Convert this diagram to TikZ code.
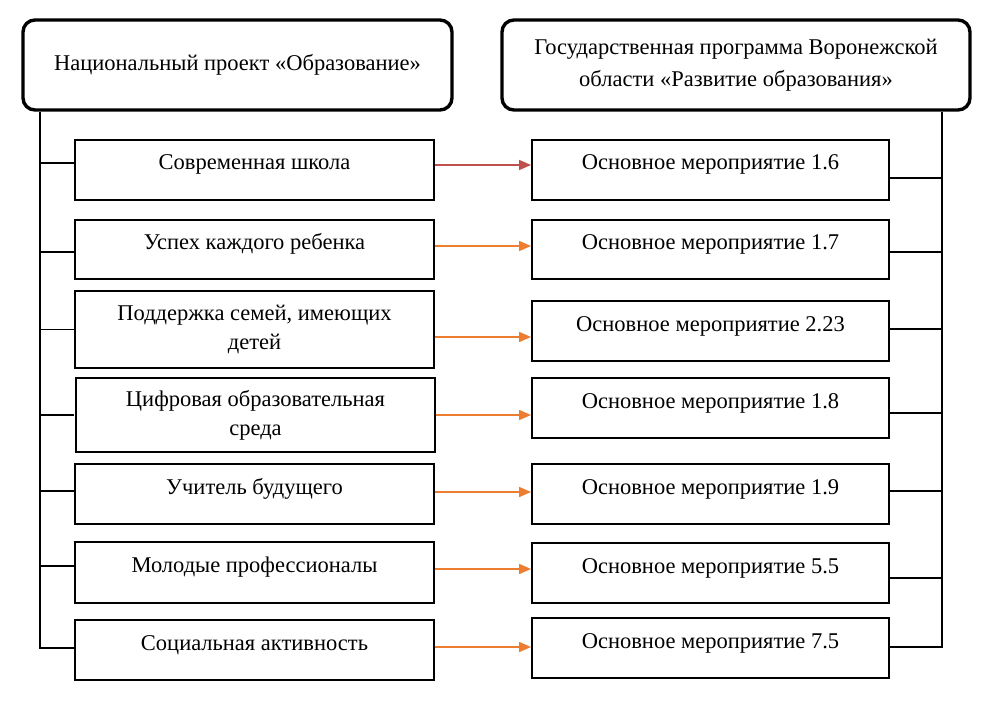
\documentclass[tikz,border=0pt]{standalone}
\usepackage{fontspec}
\setmainfont{Liberation Serif}
\usepackage{tikz}
\usetikzlibrary{arrows.meta, positioning, calc}
\definecolor{redA}{HTML}{C0504D}
\definecolor{orangeA}{HTML}{ED7D31}
\tikzset{
  head/.style={
    draw, rounded corners=12pt, line width=3.4pt,
    align=center, inner sep=4pt,
    minimum height=90pt, minimum width=#1
  },
  item/.style={
    draw, line width=1.9pt, align=center, inner sep=4pt,
    minimum width=#1
  },
  oneline/.style={text height=11pt, text depth=11pt},
  link/.style={line width=1.9pt},
  arrow/.style={-{Triangle[length=12pt, width=10pt]}, line width=1.7pt, draw=#1, fill=#1}
}

\begin{document}
\begin{tikzpicture}[x=1pt, y=-1pt, font=\fontsize{22.5}{29}\selectfont]
  \useasboundingbox (0,0) rectangle (995,711);

  % headers
  \node[head=429pt] (nat) at (237.5,65) {Национальный проект «Образование»};
  \node[head=468pt] (gos) at (736,65) {
    Государственная программа Воронежской\\[3pt]
    области «Развитие образования»
  };

  % projects
  \node[item=359pt, oneline, minimum height=60pt] (shk) at (254.5,170) {Современная школа};
  \node[item=359pt, oneline, minimum height=59pt] (usp) at (254.5,249.5) {Успех каждого ребенка};
  \node[item=359pt, minimum height=77pt] (sem) at (254.5,329.5) {Поддержка семей, имеющих\\детей};
  \node[item=359pt, minimum height=74pt] (cif) at (255.5,415) {Цифровая образовательная\\среда};
  \node[item=359pt, oneline, minimum height=60pt] (uch) at (254.5,494) {Учитель будущего};
  \node[item=359pt, oneline, minimum height=61pt] (mol) at (254.5,572.5) {Молодые профессионалы};
  \node[item=359pt, oneline, minimum height=60pt] (soc) at (254.5,650) {Социальная активность};

  % events
  \node[item=357pt, oneline, minimum height=60pt] (m16) at (710.5,170) {Основное мероприятие 1.6};
  \node[item=357pt, oneline, minimum height=59pt] (m17) at (710.5,249.5) {Основное мероприятие 1.7};
  \node[item=357pt, oneline, minimum height=60pt] (m223) at (710.5,331) {Основное мероприятие 2.23};
  \node[item=357pt, oneline, minimum height=60pt] (m18) at (710.5,408) {Основное мероприятие 1.8};
  \node[item=357pt, oneline, minimum height=60pt] (m19) at (710.5,494) {Основное мероприятие 1.9};
  \node[item=357pt, oneline, minimum height=60pt] (m55) at (710.5,573) {Основное мероприятие 5.5};
  \node[item=357pt, oneline, minimum height=60pt] (m75) at (710.5,648) {Основное мероприятие 7.5};

  % spines
  \coordinate (lsp) at ([xshift=19pt]nat.south west);
  \coordinate (rsp) at ([xshift=-30pt]gos.south east);
  \draw[link] (lsp) |- ([yshift=2pt]soc.west);
  \draw[link] ([yshift=7pt]shk.west) -| (lsp);
  \draw[link] ([yshift=-2.5pt]usp.west) -| (lsp);
  \draw[link] (sem.west) -| (lsp);
  \draw[link] ([xshift=-1pt]cif.west) -| (lsp);
  \draw[link] ([yshift=3pt]uch.west) -| (lsp);
  \draw[link] ([yshift=6.5pt]mol.west) -| (lsp);

  \draw[link] (rsp) |- ([yshift=1pt]m75.east);
  \draw[link] ([yshift=-8pt]m16.east) -| (rsp);
  \draw[link] ([yshift=-2.5pt]m17.east) -| (rsp);
  \draw[link] ([yshift=2pt]m223.east) -| (rsp);
  \draw[link] ([yshift=-5pt]m18.east) -| (rsp);
  \draw[link] ([yshift=3pt]m19.east) -| (rsp);
  \draw[link] ([yshift=-5pt]m55.east) -| (rsp);

  % links between project and event
  \draw[arrow=redA] ([yshift=5pt]shk.east) -- ([yshift=5pt]shk.east -| m16.west);
  \draw[arrow=orangeA] ([yshift=3.5pt]usp.east) -- ([yshift=3.5pt]usp.east -| m17.west);
  \draw[arrow=orangeA] ([yshift=-7.5pt]sem.east) -- ([yshift=-7.5pt]sem.east -| m223.west);
  \draw[arrow=orangeA] (cif.east) -- (cif.east -| m18.west);
  \draw[arrow=orangeA] ([yshift=2pt]uch.east) -- ([yshift=2pt]uch.east -| m19.west);
  \draw[arrow=orangeA] ([yshift=3.5pt]mol.east) -- ([yshift=3.5pt]mol.east -| m55.west);
  \draw[arrow=orangeA] ([yshift=3pt]soc.east) -- ([yshift=3pt]soc.east -| m75.west);
\end{tikzpicture}
\end{document}
